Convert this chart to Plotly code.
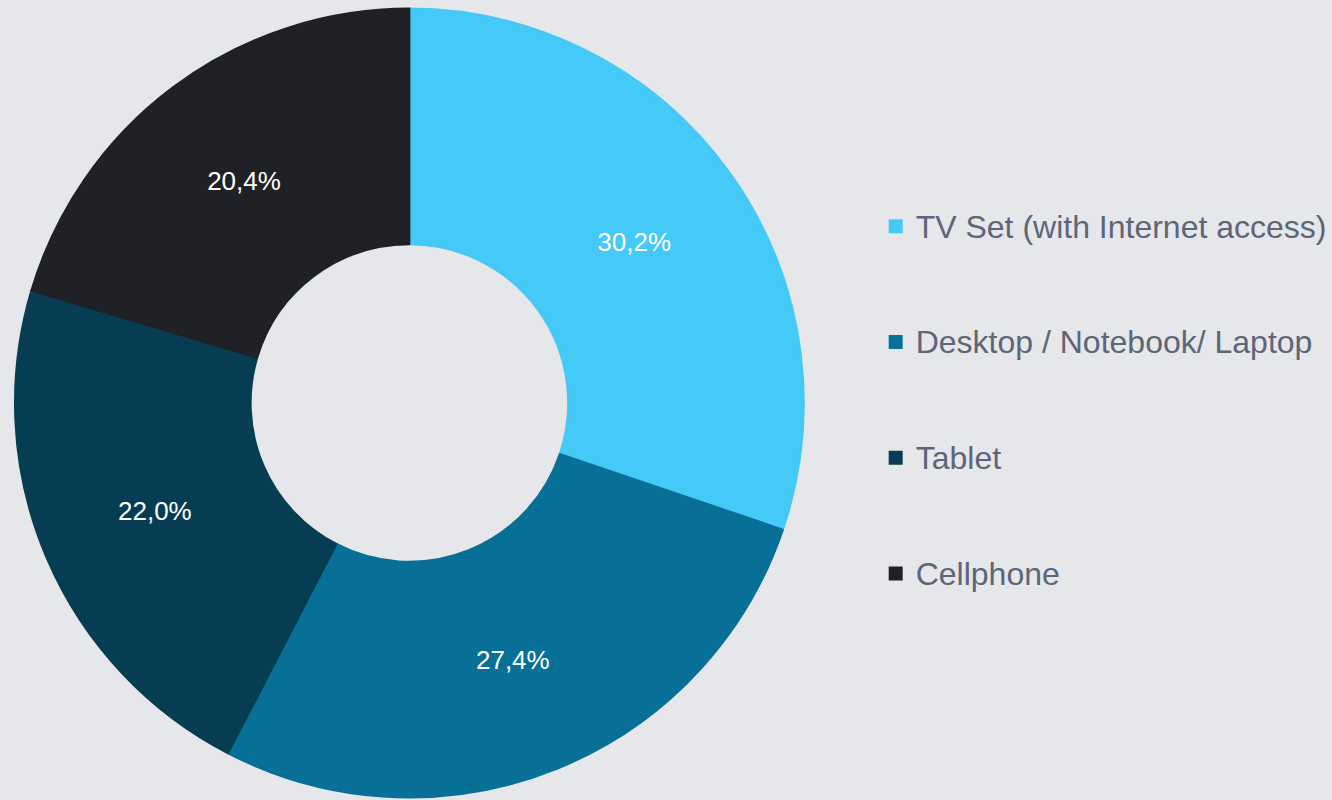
import plotly.graph_objects as go

categories = ["TV Set (with Internet access)", "Desktop / Notebook/ Laptop", "Tablet", "Cellphone"]
values = [30.2, 27.4, 22.0, 20.4]
colors = ["#45c9f6", "#087096", "#063d53", "#1f2127"]

W, H = 1332, 800
# legend labels: visible text on the middle line so entries get the wide spacing of the reference
legend_labels = ["&#8203;<br><span style='font-size:32px'>%s</span><br>&#8203;" % c for c in categories]

fig = go.Figure(go.Pie(
    labels=legend_labels,
    values=values,
    marker=dict(colors=colors, line=dict(width=2, color=colors)),
    hole=159 / 395,
    sort=False,
    direction="clockwise",
    rotation=0,
    textposition="inside",
    insidetextorientation="horizontal",
    texttemplate="%{percent:.1%}",
    textfont=dict(color="white", size=26, family="Arial, Liberation Sans, sans-serif"),
    hoverinfo="skip",
    domain=dict(x=[15 / W, 805 / W], y=[1 - 798 / H, 1 - 8 / H]),
))

fig.update_layout(
    width=W, height=H,
    margin=dict(l=0, r=0, t=0, b=0),
    paper_bgcolor="#e5e7eb",
    plot_bgcolor="#e5e7eb",
    separators=",.",
    showlegend=True,
    legend=dict(
        x=877 / W, xanchor="left",
        y=0.5, yanchor="middle",
        font=dict(size=28.9, color="#5e6577", family="Arial, Liberation Sans, sans-serif"),
        bgcolor="rgba(0,0,0,0)",
        valign="middle",
    ),
)

fig.write_html(
    "out.html",
    config={"displayModeBar": False},
    post_script="document.body.style.margin='0';document.body.style.background='#e5e7eb';",
)
